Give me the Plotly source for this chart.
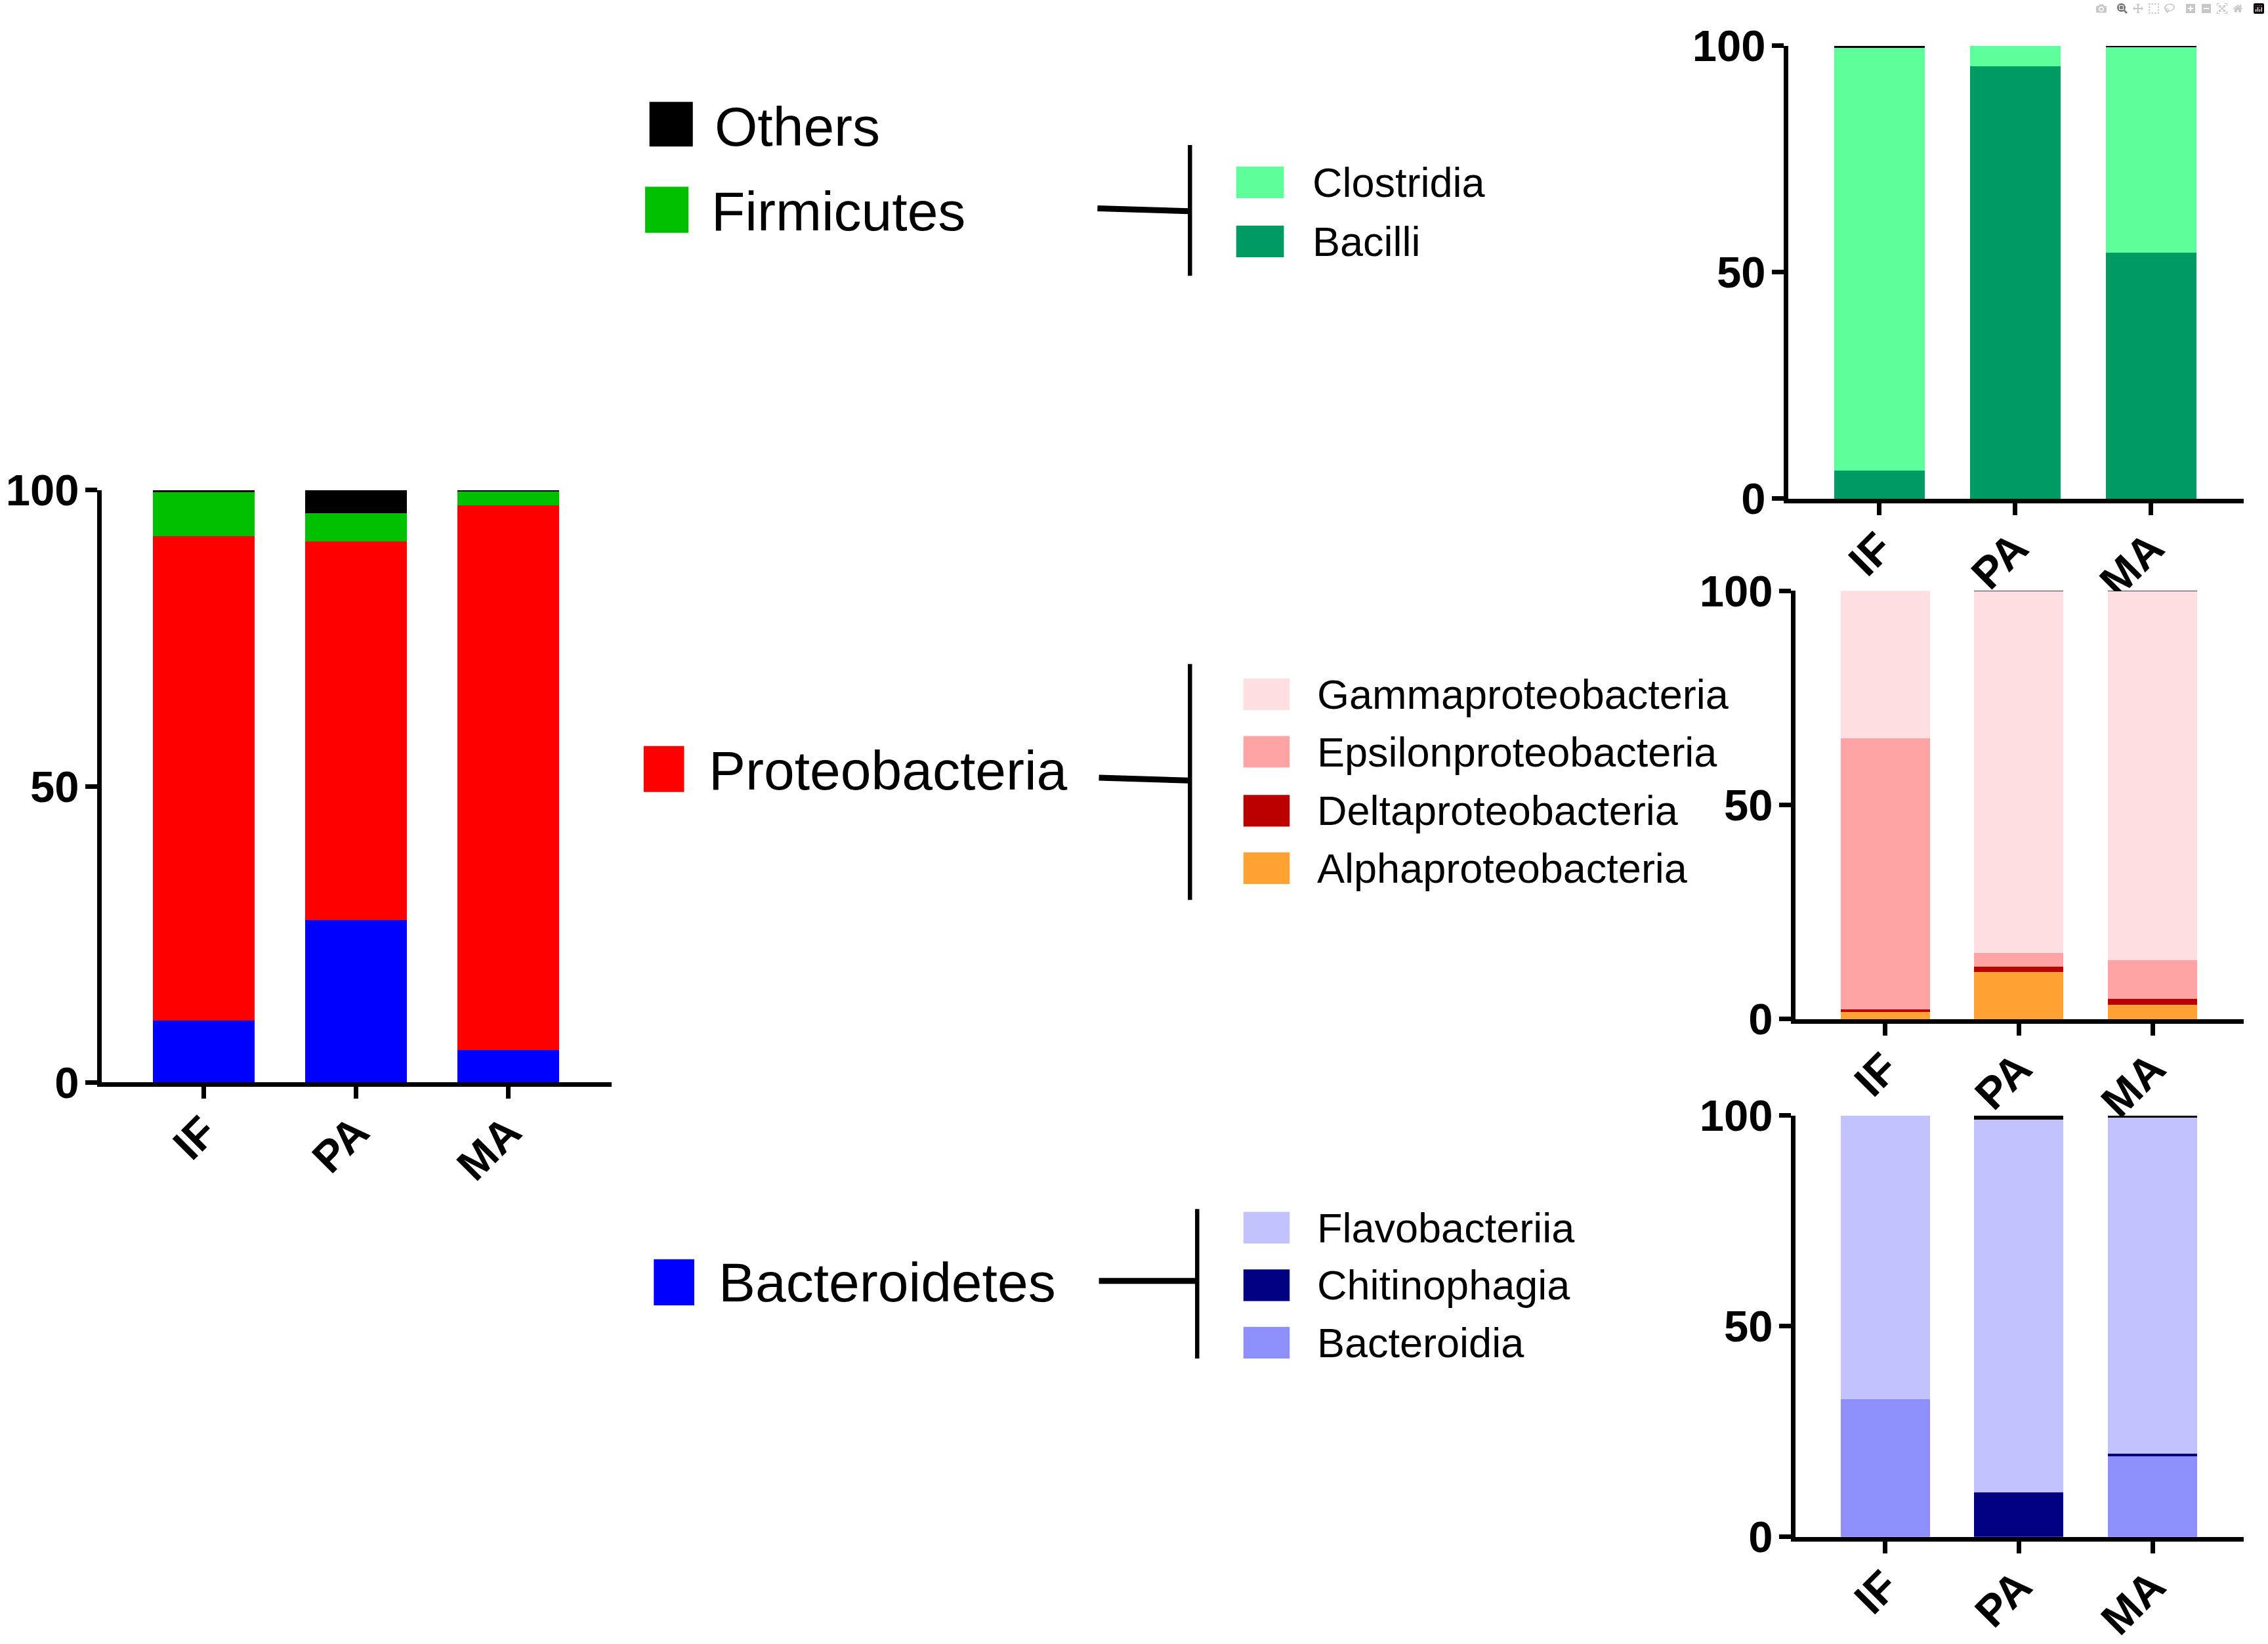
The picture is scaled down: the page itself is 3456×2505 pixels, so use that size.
import plotly.graph_objects as go

# ---------------- data (% relative abundance) ----------------
groups = ["IF", "PA", "MA"]
y_ticks = [0, 50, 100]

# Phylum level
bacteroidetes = [10.5, 27.4, 5.5]
proteobacteria = [81.8, 64.0, 91.9]
firmicutes = [7.4, 4.7, 2.4]
others = [0.3, 3.9, 0.2]

# Firmicutes -> classes
bacilli = [6.2, 95.5, 54.4]
clostridia = [93.3, 4.5, 45.3]
firm_others = [0.5, 0.0, 0.3]

# Proteobacteria -> classes
alpha = [1.7, 11.0, 3.4]
delta = [0.6, 1.2, 1.3]
epsilon = [63.2, 3.3, 9.0]
gamma = [34.5, 84.35, 86.15]
proteo_others = [0.0, 0.15, 0.15]

# Bacteroidetes -> classes
bacteroidia = [32.7, 0.0, 19.1]
chitinophagia = [0.0, 10.6, 0.7]
flavobacteriia = [67.3, 88.4, 79.7]
bact_others = [0.0, 1.0, 0.5]

# ---------------- styling ----------------
C = dict(
    Others="#000000", Firmicutes="#00C000", Proteobacteria="#FF0000", Bacteroidetes="#0000FF",
    Clostridia="#5CFF9A", Bacilli="#009B62",
    Gamma="#FFDFE1", Epsilon="#FFA3A5", Delta="#BB0000", Alpha="#FFA233",
    Flavo="#C2C2FF", Chitino="#000080", Bacteroidia="#8F8FFC",
)
FONT = "Liberation Sans, Arial, sans-serif"
W, H = 3456, 2505
REF_W, REF_H = 1560.0, 1130.0


def fx(x):
    return ((x + 2.4) / 1.006) / REF_W


def fy(y):
    y = y + (y - 31) * 0.0048
    return 1 - ((y - 16.4) / 0.9725) / REF_H


BAR_W = 0.667
fig = go.Figure()


def add_stack(series, xa, ya):
    for vals, col in series:
        fig.add_trace(go.Bar(x=groups, y=vals, marker=dict(color=col, line=dict(width=0)),
                             width=BAR_W, xaxis=xa, yaxis=ya, showlegend=False,
                             hoverinfo="y"))


add_stack([(bacteroidetes, C["Bacteroidetes"]), (proteobacteria, C["Proteobacteria"]),
           (firmicutes, C["Firmicutes"]), (others, C["Others"])], "x", "y")
add_stack([(bacilli, C["Bacilli"]), (clostridia, C["Clostridia"]), (firm_others, C["Others"])], "x2", "y2")
add_stack([(alpha, C["Alpha"]), (delta, C["Delta"]), (epsilon, C["Epsilon"]),
           (gamma, C["Gamma"]), (proteo_others, C["Others"])], "x3", "y3")
add_stack([(bacteroidia, C["Bacteroidia"]), (chitinophagia, C["Chitino"]),
           (flavobacteriia, C["Flavo"]), (bact_others, C["Others"])], "x4", "y4")

tickfont = dict(family=FONT, size=67, color="black", weight="bold")


def xaxis(x0, x1, anchor):
    return dict(domain=[fx(x0), fx(x1)], anchor=anchor, type="category",
                range=[-0.67, 2.68], showline=True, linewidth=7, linecolor="black",
                ticks="outside", ticklen=18, tickwidth=7, tickcolor="black",
                showgrid=False, zeroline=False, tickangle=-45, tickfont=tickfont,
                ticklabelstandoff=-16)


def yaxis(ytop, ybot, anchor):
    return dict(domain=[fy(ybot), fy(ytop)], anchor=anchor, range=[0, 100],
                tickvals=y_ticks, showline=True, linewidth=7, linecolor="black",
                ticks="outside", ticklen=18, tickwidth=7, tickcolor="black",
                showgrid=False, zeroline=False, tickfont=tickfont,
                ticklabelstandoff=-4)


layout = dict(
    width=W, height=H, margin=dict(l=0, r=0, t=0, b=0),
    paper_bgcolor="white", plot_bgcolor="white", barmode="stack", bargap=0,
    xaxis=xaxis(68, 421, "y"), yaxis=yaxis(340, 752, "x"),
    xaxis2=xaxis(1235, 1550, "y2"), yaxis2=yaxis(31, 346, "x2"),
    xaxis3=xaxis(1240, 1550, "y3"), yaxis3=yaxis(410, 708, "x3"),
    xaxis4=xaxis(1240, 1550, "y4"), yaxis4=yaxis(775, 1068, "x4"),
)
fig.update_layout(**layout)

shapes = []
annotations = []

# main legend: (label, colour, square x0, x1, y0, y1, text x, text y)
main_legend = [
    ("Others", C["Others"], 447, 477, 70, 101, 491, 87),
    ("Firmicutes", C["Firmicutes"], 444, 474, 129, 161, 489, 146),
    ("Proteobacteria", C["Proteobacteria"], 443, 471, 518, 550, 487, 535),
    ("Bacteroidetes", C["Bacteroidetes"], 450, 478, 875, 907, 494, 891),
]
sub_legend = [
    ("Clostridia", C["Clostridia"], 853, 886, 126, 905),
    ("Bacilli", C["Bacilli"], 853, 886, 167, 905),
    ("Gammaproteobacteria", C["Gamma"], 858, 890, 482, 908),
    ("Epsilonproteobacteria", C["Epsilon"], 858, 890, 522, 908),
    ("Deltaproteobacteria", C["Delta"], 858, 890, 563, 908),
    ("Alphaproteobacteria", C["Alpha"], 858, 890, 603, 908),
    ("Flavobacteriia", C["Flavo"], 858, 890, 853, 908),
    ("Chitinophagia", C["Chitino"], 858, 890, 893, 908),
    ("Bacteroidia", C["Bacteroidia"], 858, 890, 933, 908),
]

for name, col, x0, x1, y0, y1, tx, ty in main_legend:
    shapes.append(dict(type="rect", xref="paper", yref="paper", x0=fx(x0), x1=fx(x1),
                       y0=fy(y1), y1=fy(y0), fillcolor=col, line=dict(width=0)))
    annotations.append(dict(text=name, x=fx(tx), y=fy(ty), xref="paper", yref="paper",
                            xanchor="left", yanchor="middle", showarrow=False,
                            font=dict(family=FONT, size=84, color="black")))

for name, col, x0, x1, cy, tx in sub_legend:
    shapes.append(dict(type="rect", xref="paper", yref="paper", x0=fx(x0), x1=fx(x1),
                       y0=fy(cy + 11), y1=fy(cy - 11), fillcolor=col, line=dict(width=0)))
    annotations.append(dict(text=name, x=fx(tx), y=fy(cy), xref="paper", yref="paper",
                            xanchor="left", yanchor="middle", showarrow=False,
                            font=dict(family=FONT, size=63, color="black")))

# bracket connectors: (h x0, h x1, h y0, h y1, v x, v y0, v y1)
brackets = [
    (757, 820, 144, 146, 821, 100, 191),
    (758, 820, 540, 542, 821, 461, 625),
    (758, 825, 890, 890, 826, 840, 944),
]
for hx0, hx1, hy0, hy1, vx, vy0, vy1 in brackets:
    shapes.append(dict(type="line", xref="paper", yref="paper", x0=fx(hx0), x1=fx(hx1),
                       y0=fy(hy0), y1=fy(hy1), line=dict(color="black", width=9)))
    shapes.append(dict(type="line", xref="paper", yref="paper", x0=fx(vx), x1=fx(vx),
                       y0=fy(vy0), y1=fy(vy1), line=dict(color="black", width=6.5)))

fig.update_layout(shapes=shapes, annotations=annotations)

fig.write_html("out.html", post_script="document.body.style.margin='0';")
